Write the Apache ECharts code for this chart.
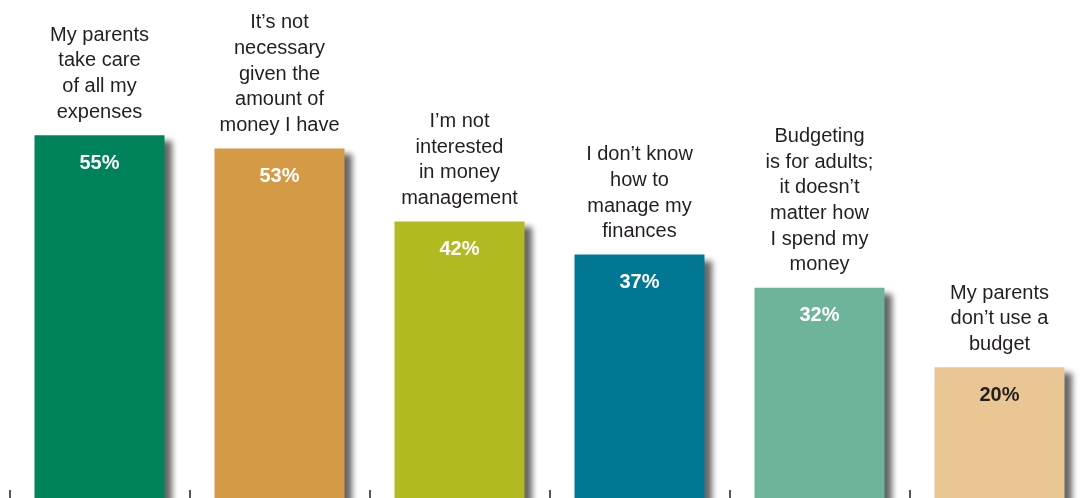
<!DOCTYPE html>
<html>
<head>
<meta charset="utf-8">
<script src="https://cdn.jsdelivr.net/npm/echarts@6/dist/echarts.min.js"></script>
<style>
  html, body { margin: 0; padding: 0; background: #ffffff; }
  #chart { width: 1083px; height: 498px; }
</style>
</head>
<body>
<div id="chart"></div>
<script>
// Reasons given for not keeping a budget
const categories = [
  'My parents\ntake care\nof all my\nexpenses',
  'It\u2019s not\nnecessary\ngiven the\namount of\nmoney I have',
  'I\u2019m not\ninterested\nin money\nmanagement',
  'I don\u2019t know\nhow to\nmanage my\nfinances',
  'Budgeting\nis for adults;\nit doesn\u2019t\nmatter how\nI spend my\nmoney',
  'My parents\ndon\u2019t use a\nbudget'
];
const values = [55, 53, 42, 37, 32, 20];
const barColors = ['#00825a', '#d59a45', '#b1bb21', '#007893', '#6db49b', '#eac695'];
const valueLabelColors = ['#ffffff', '#ffffff', '#ffffff', '#ffffff', '#ffffff', '#231f20'];

const FONT = '"Liberation Sans", Arial, Helvetica, sans-serif';

const chart = echarts.init(document.getElementById('chart'), null, { renderer: 'canvas' });

chart.setOption({
  backgroundColor: '#ffffff',
  animation: false,
  // plot area runs slightly past the right and bottom edges of the canvas
  grid: {
    left: 9.5, width: 1080, top: 102, height: 398,
    containLabel: false,
    outerBoundsMode: 'none'
  },
  xAxis: {
    type: 'category',
    data: categories,
    boundaryGap: true,
    axisLine: { show: false },
    axisTick: { show: true, inside: true, length: 10, lineStyle: { color: '#231f20', width: 1.5 } },
    axisLabel: { show: false },
    splitLine: { show: false }
  },
  yAxis: {
    type: 'value',
    min: 0,
    max: 60,
    show: false,
    splitLine: { show: false }
  },
  series: [
    {
      type: 'bar',
      barWidth: 130,
      data: values.map((v, i) => ({
        value: v,
        itemStyle: { color: barColors[i] },
        label: { color: valueLabelColors[i] }
      })),
      itemStyle: {
        borderWidth: 0,
        shadowColor: 'rgba(0,0,0,0.6)',
        shadowBlur: 6,
        shadowOffsetX: 7,
        shadowOffsetY: 6
      },
      label: {
        show: true,
        position: 'insideTop',
        distance: 18,
        formatter: '{c}%',
        fontFamily: FONT,
        fontWeight: 'bold',
        fontSize: 20
      },
      z: 2
    },
    {
      // transparent twin carrying the category captions above each bar
      type: 'bar',
      barWidth: 130,
      barGap: '-100%',
      silent: true,
      data: values,
      itemStyle: { color: 'rgba(0,0,0,0)' },
      label: {
        show: true,
        position: 'top',
        distance: 10,
        formatter: '{b}',
        align: 'center',
        fontFamily: FONT,
        fontSize: 20,
        lineHeight: 25.7,
        color: '#231f20'
      },
      z: 3
    }
  ]
});
</script>
</body>
</html>
